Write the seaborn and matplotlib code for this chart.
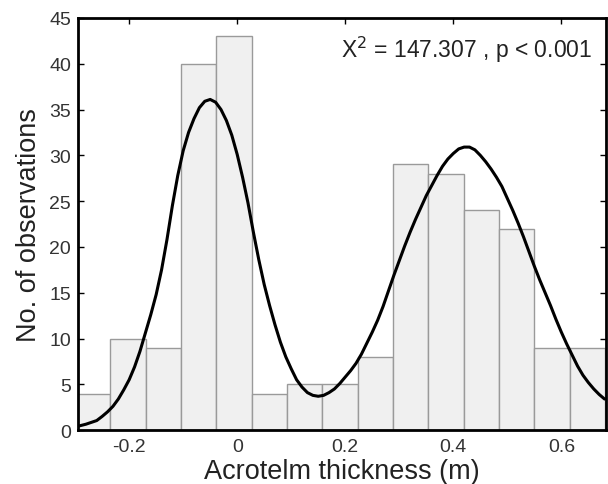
import numpy as np
import pandas as pd
import matplotlib
matplotlib.use("Agg")
import matplotlib.pyplot as plt
import seaborn as sns

# histogram counts per bin (bins 0.0654 m wide, starting at -0.30 m)
bin_start = -0.300
bin_width = 0.0654
counts = [4, 10, 9, 40, 43, 4, 5, 5, 8, 29, 28, 24, 22, 9, 9]

# fitted curve, every 0.01 m
curve_x = [round(-0.30 + 0.01 * i, 2) for i in range(99)]
curve_y = [0.35, 0.5, 0.65, 0.85, 1.05, 1.5, 2.0, 2.6, 3.4, 4.4,
           5.5, 6.9, 8.6, 10.6, 12.6, 14.8, 17.5, 20.8, 24.5, 27.8,
           30.5, 32.5, 34.0, 35.2, 35.9, 36.1, 35.8, 35.0, 33.8, 32.2,
           30.1, 27.6, 24.8, 21.6, 18.6, 15.9, 13.6, 11.5, 9.6, 8.0,
           6.7, 5.5, 4.7, 4.1, 3.8, 3.7, 3.8, 4.1, 4.5, 5.1,
           5.8, 6.5, 7.3, 8.3, 9.5, 10.7, 12.0, 13.5, 15.2, 16.9,
           18.5, 20.1, 21.6, 23.0, 24.3, 25.6, 26.7, 27.8, 28.8, 29.6,
           30.2, 30.7, 30.9, 30.9, 30.6, 30.0, 29.3, 28.5, 27.6, 26.6,
           25.3, 24.0, 22.6, 21.1, 19.5, 17.9, 16.4, 15.0, 13.6, 12.1,
           10.7, 9.4, 8.2, 7.0, 6.0, 5.2, 4.5, 3.9, 3.4]

x_ticks = [-0.2, 0, 0.2, 0.4, 0.6]
x_tick_labels = ["-0.2", "0", "0.2", "0.4", "0.6"]
y_ticks = [0, 5, 10, 15, 20, 25, 30, 35, 40, 45]

edges = bin_start + bin_width * np.arange(len(counts) + 1)
centers = (edges[:-1] + edges[1:]) / 2
hist_df = pd.DataFrame({"thickness": centers, "n": counts})
curve_df = pd.DataFrame({"x": curve_x, "y": curve_y})

sns.set_style("ticks")
plt.rcParams["font.family"] = ["Liberation Sans", "DejaVu Sans"]

fig = plt.figure(figsize=(6.08, 4.85), dpi=100)
ax = fig.add_axes([0.128, 0.111, 0.869, 0.850])

sns.histplot(data=hist_df, x="thickness", weights="n", bins=list(edges), ax=ax,
             color="#f0f0f0", edgecolor="#9a9a9a", linewidth=1.0, alpha=1)
sns.lineplot(data=curve_df, x="x", y="y", ax=ax, color="black", linewidth=2.2)

ax.set_xlim(-0.295, 0.683)
ax.set_ylim(0, 45)
ax.set_xticks(x_ticks)
ax.set_xticklabels(x_tick_labels)
ax.set_yticks(y_ticks)
ax.tick_params(direction="in", length=4, width=1, labelsize=14, colors="black",
               top=True, right=True, labeltop=False, labelright=False)
ax.tick_params(axis="x", labelcolor="#333333", pad=6)
ax.tick_params(axis="y", labelcolor="#333333", pad=5)
for s in ax.spines.values():
    s.set_linewidth(2)
    s.set_color("black")

ax.set_xlabel("Acrotelm thickness (m)", fontsize=19.5, color="#222222", labelpad=2)
ax.set_ylabel("No. of observations", fontsize=19.5, color="#222222", labelpad=5)
ax.text(0.973, 0.962, "X$^2$ = 147.307 , p < 0.001", transform=ax.transAxes,
        ha="right", va="top", fontsize=16.5, color="#222222")

fig.savefig("out.png", dpi=100)
